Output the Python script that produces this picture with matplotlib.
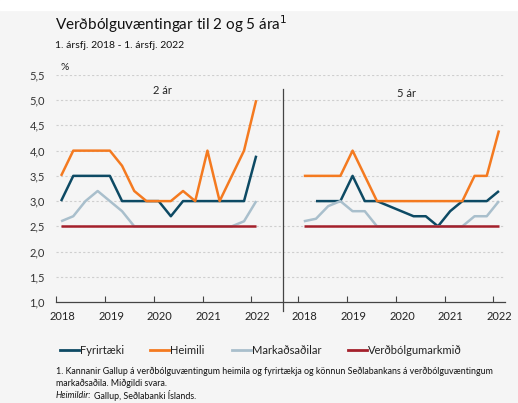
import numpy as np
import matplotlib
matplotlib.use("Agg")
import matplotlib.pyplot as plt
from matplotlib.lines import Line2D

plt.rcParams["font.family"] = ["Lato", "DejaVu Sans"]

# Quarterly data, 2018Q1 - 2022Q1
years = [2018, 2019, 2020, 2021, 2022]
series_names = ["Fyrirtæki", "Heimili", "Markaðsaðilar", "Verðbólgumarkmið"]
colors = ["#0d4a64", "#f47a20", "#a9bfcc", "#a4202b"]

# 2 ár
firms_2y = [3.0, 3.5, 3.5, 3.5, 3.5, 3.0, 3.0, 3.0, 3.0, 2.7, 3.0, 3.0, 3.0, 3.0, 3.0, 3.0, 3.9]
households_2y = [3.5, 4.0, 4.0, 4.0, 4.0, 3.7, 3.2, 3.0, 3.0, 3.0, 3.2, 3.0, 4.0, 3.0, 3.5, 4.0, 5.0]
market_2y = [2.6, 2.7, 3.0, 3.2, 3.0, 2.8, 2.5, 2.5, 2.5, 2.5, 2.5, 2.5, 2.5, 2.5, 2.5, 2.6, 3.0]
target_2y = [2.5] * 17

# 5 ár
firms_5y = [np.nan, 3.0, 3.0, 3.0, 3.5, 3.0, 3.0, 2.9, 2.8, 2.7, 2.7, 2.5, 2.8, 3.0, 3.0, 3.0, 3.2]
households_5y = [3.5, 3.5, 3.5, 3.5, 4.0, 3.5, 3.0, 3.0, 3.0, 3.0, 3.0, 3.0, 3.0, 3.0, 3.5, 3.5, 4.4]
market_5y = [2.6, 2.65, 2.9, 3.0, 2.8, 2.8, 2.5, 2.5, 2.5, 2.5, 2.5, 2.5, 2.5, 2.5, 2.7, 2.7, 3.0]
target_5y = [2.5] * 17

bg = "#f5f5f5"
fig = plt.figure(figsize=(5.18, 4.03), dpi=100, facecolor=bg)
fig.patches.append(plt.Rectangle((0, 0.975), 1, 0.025, transform=fig.transFigure,
                                 color="white", zorder=0))
ax = fig.add_axes([0.108, 0.2506, 0.867, 0.5634], facecolor=bg)

x_left = np.arange(17)
x_right = np.arange(17) + 19.9

panels = [
    (x_left, [firms_2y, households_2y, market_2y, target_2y]),
    (x_right, [firms_5y, households_5y, market_5y, target_5y]),
]
for xs, data in panels:
    for vals, c, name in zip(data, colors, series_names):
        ax.plot(xs, vals, color=c, lw=1.8, solid_capstyle="butt", label=name)

ax.set_ylim(1.0, 5.5)
ax.set_xlim(-0.42, 36.4)
yt = np.arange(1.0, 5.51, 0.5)
ax.set_yticks(yt)
ax.set_yticklabels([f"{v:.1f}".replace(".", ",") for v in yt], fontsize=8, color="#333333")
ax.tick_params(axis="y", length=0, pad=8)
for v in yt[1:]:
    ax.axhline(v, color="#cfcfcf", lw=0.8, ls=(0, (2, 2)), zorder=0)

# x ticks: marks at year start, labels at Q1
tick_pos = [4 * i - 0.4 for i in range(5)] + [19.9 + 4 * i - 0.45 for i in range(5)]
ax.set_xticks(tick_pos)
ax.set_xticklabels([])
ax.tick_params(axis="x", direction="in", length=4, color="#444444", width=0.8)
lab_pos = [4 * i + 0.1 for i in range(5)] + [19.9 + 4 * i + 0.05 for i in range(5)]
for p, y in zip(lab_pos, years * 2):
    ax.text(p, 0.72, str(y), ha="center", va="center", fontsize=8, color="#222222")

for s in ["top", "right", "left"]:
    ax.spines[s].set_visible(False)
ax.spines["bottom"].set_color("#444444")
ax.spines["bottom"].set_linewidth(0.9)

# panel divider
ax.plot([18.2, 18.2], [0.82, 5.22], color="#444444", lw=0.9, clip_on=False)

ax.text(8.3, 5.2, "2 ár", ha="center", va="center", fontsize=8, color="#222222")
ax.text(28.3, 5.13, "5 ár", ha="center", va="center", fontsize=8, color="#222222")
ax.text(0.01, 1.035, "%", transform=ax.transAxes, ha="left", va="center", fontsize=7.5,
        color="#222222")

fig.text(0.106, 0.94, "Verðbólguvæntingar til 2 og 5 ára$^{1}$", fontsize=11,
         ha="left", va="center", color="#111111")
fig.text(0.106, 0.888, "1. ársfj. 2018 - 1. ársfj. 2022", fontsize=7.5, ha="left",
         va="center", color="#111111")

# legend drawn by hand to match entry spacing
leg_x = [0.116, 0.29, 0.448, 0.672]
leg_y = 0.131
for lx, c, name in zip(leg_x, colors, series_names):
    fig.add_artist(Line2D([lx, lx + 0.036], [leg_y, leg_y], color=c, lw=2,
                          transform=fig.transFigure))
    fig.text(lx + 0.038, leg_y, name, fontsize=8, ha="left", va="center",
             color="#222222")

fn = 6.4
fig.text(0.108, 0.079,
         "1. Kannanir Gallup á verðbólguvæntingum heimila og fyrirtækja og könnun "
         "Seðlabankans á verðbólguvæntingum",
         fontsize=fn, ha="left", va="center", color="#111111")
fig.text(0.108, 0.049, "markaðsaðila. Miðgildi svara.", fontsize=fn, ha="left",
         va="center", color="#111111")
fig.text(0.108, 0.019, "Heimildir:", fontsize=fn, ha="left", va="center",
         style="italic", color="#111111")
fig.text(0.181, 0.019, "Gallup, Seðlabanki Íslands.", fontsize=fn, ha="left",
         va="center", color="#111111")

fig.savefig("out.png", dpi=100, facecolor=bg)
